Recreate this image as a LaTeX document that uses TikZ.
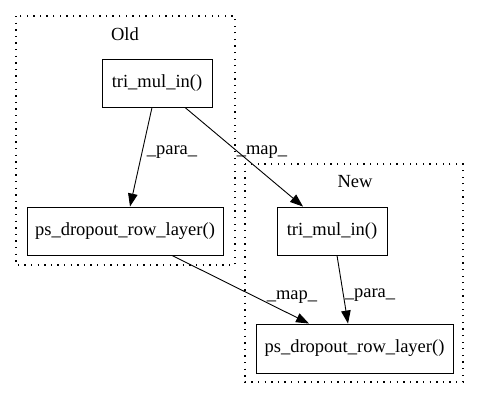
\documentclass[tikz,border=0pt]{standalone}
\usepackage{fontspec}
\setmainfont{Liberation Serif}
\usetikzlibrary{arrows.meta}
\begin{document}
\begin{tikzpicture}[x=1bp,y=-1bp,
  fn/.style={draw,line width=0.9bp,inner sep=0pt,font=\fontsize{18.5bp}{20bp}\selectfont},
  cluster/.style={draw,line width=1.2bp,dash pattern=on 1.3bp off 5.3bp},
  lbl/.style={font=\fontsize{18.5bp}{20bp}\selectfont,inner sep=0pt},
  edge/.style={line width=0.9bp,-{Triangle[length=13bp,width=9.5bp]}}]
\useasboundingbox (0,0) rectangle (480,400);
\draw[cluster] (16,16) rectangle (235,265);
\draw[cluster] (245,164) rectangle (463,382);
\node[lbl] (oldl) at (125,34) {Old};
\node[lbl] (newl) at (355,182) {New};
\node[fn,minimum width=110bp,minimum height=48bp] (ot) at (157,83) {tri\_mul\_in()};
\node[fn,minimum width=196bp,minimum height=48bp] (op) at (125,231) {ps\_dropout\_row\_layer()};
\node[fn,minimum width=110bp,minimum height=48bp] (nt) at (332,231) {tri\_mul\_in()};
\node[fn,minimum width=197bp,minimum height=49bp] (np) at (354.5,348.5) {ps\_dropout\_row\_layer()};
\draw[edge] ([xshift=-5bp]ot.south) -- ([xshift=5bp]op.north);
\draw[edge] ([xshift=28bp]ot.south) -- ([xshift=-29bp]nt.north);
\draw[edge] ([xshift=47bp]op.south) -- ([xshift=-45.5bp]np.north);
\draw[edge] ([xshift=5bp]nt.south) -- ([xshift=-6.5bp]np.north);
\node[lbl] (p1) at (172,152) {\_para\_};
\node[lbl] (m1) at (262,152) {\_map\_};
\node[lbl] (m2) at (292,297) {\_map\_};
\node[lbl] (p2) at (370,295) {\_para\_};
\end{tikzpicture}
\end{document}
